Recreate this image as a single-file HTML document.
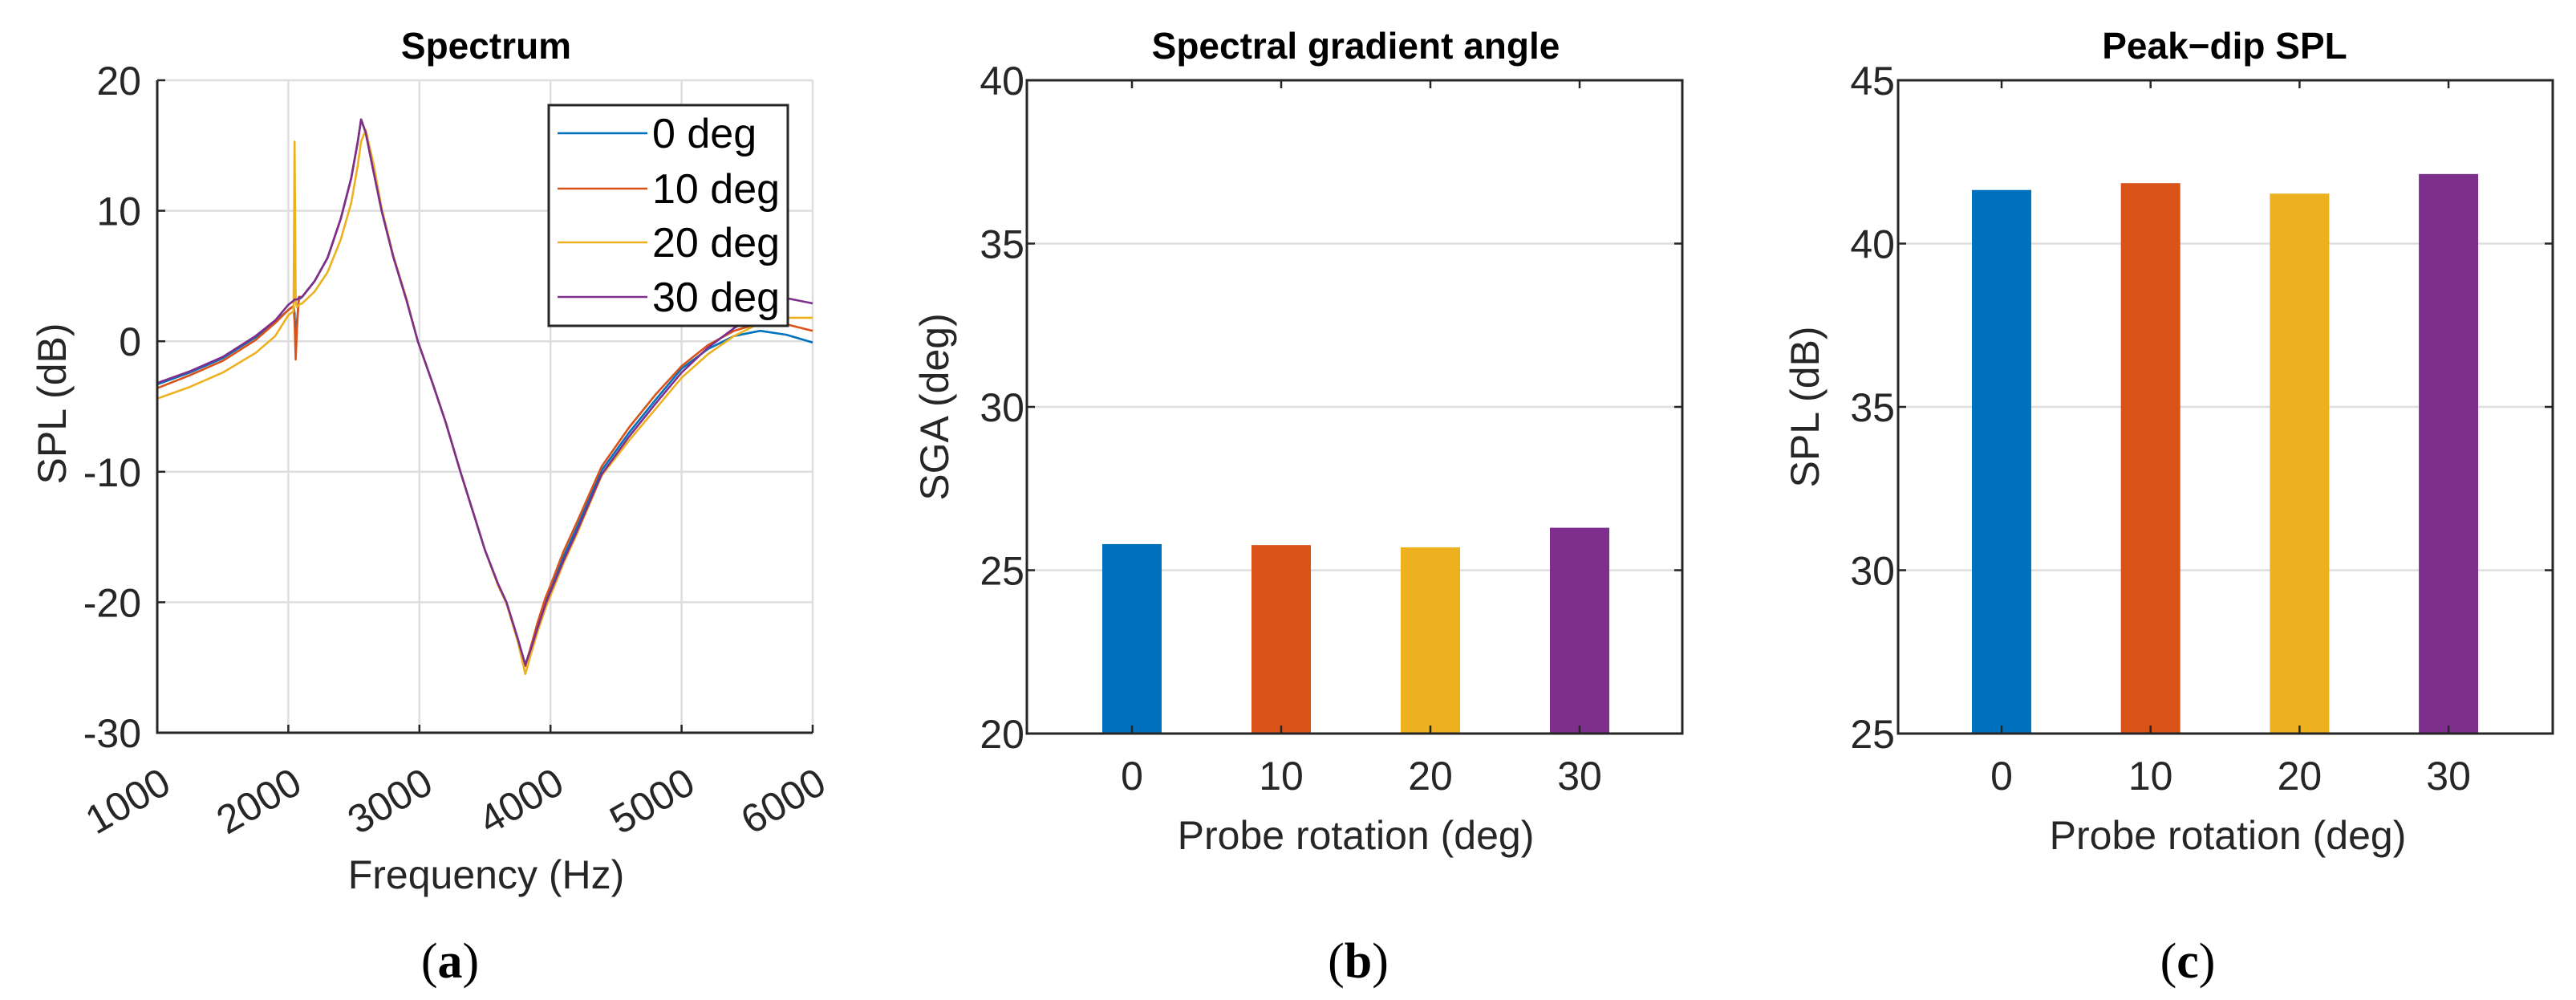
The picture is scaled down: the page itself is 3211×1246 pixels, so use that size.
<!DOCTYPE html>
<html><head><meta charset="utf-8"><style>
html,body{margin:0;padding:0;background:#fff;}
svg{display:block;font-family:"Liberation Sans",Arial,sans-serif;}
</style></head><body>
<svg id="fig" width="3211" height="1246" viewBox="0 0 3211 1246" xmlns="http://www.w3.org/2000/svg">
<rect width="3211" height="1246" fill="#fff"/>
<g id="pa"></g>
<g id="pb"></g>
<g id="pc"></g>
</svg>
<script>
const freqs=[1000,1250,1500,1750,1900,2000,2040,2048,2056,2066,2080,2105,2200,2300,2400,2480,2530,2555,2590,2650,2712,2800,2900,2988,3100,3200,3313,3400,3500,3600,3664,3750,3808,3850,3900,3960,4000,4100,4200,4390,4600,4800,5000,5200,5400,5600,5800,6000];
const spl0=[-3.3,-2.4,-1.3,0.3,1.5,2.4,2.7,2.2,-0.45,1.5,3.2,3.4,4.6,6.4,9.4,12.5,15.3,17.0,16.0,13.0,10.0,6.5,3.2,0,-3.2,-6.2,-10,-12.8,-16,-18.6,-20,-22.8,-24.8,-23.5,-21.8,-20,-19,-16.5,-14.3,-9.9,-7,-4.5,-2.1,-0.6,0.4,0.8,0.5,-0.1];
const spl10=[-3.6,-2.6,-1.5,0.1,1.4,2.4,2.7,1.5,-1.4,1.0,3.4,3.4,4.6,6.4,9.4,12.5,15.3,17.0,16.0,13.0,10.0,6.5,3.2,0,-3.2,-6.2,-10,-12.8,-16,-18.6,-20,-22.8,-24.9,-23.4,-21.6,-19.7,-18.7,-16.1,-13.9,-9.6,-6.6,-4.1,-1.9,-0.3,0.8,1.4,1.3,0.8];
const spl20=[-4.4,-3.5,-2.4,-0.9,0.4,2.0,2.3,15.3,3.0,2.6,2.8,2.9,3.8,5.3,7.8,10.6,13.5,15.3,16.2,13.6,10.2,6.6,3.3,0,-3.2,-6.2,-10,-12.8,-16,-18.7,-20.1,-23.0,-25.5,-24.0,-22.3,-20.5,-19.5,-17.0,-14.8,-10.3,-7.6,-5.2,-2.8,-1.0,0.4,1.4,1.8,1.8];
const spl30=[-3.2,-2.3,-1.2,0.4,1.6,2.8,3.1,3.2,3.2,3.2,3.3,3.4,4.6,6.4,9.4,12.5,15.3,17.0,16.0,13.0,10.0,6.5,3.2,0,-3.2,-6.2,-10,-12.8,-16,-18.6,-20,-22.8,-24.8,-23.6,-22.0,-20.2,-19.2,-16.8,-14.6,-10.2,-7.3,-4.8,-2.4,-0.5,1.0,2.2,3.3,2.9];
const seriesNames=["0 deg","10 deg","20 deg","30 deg"];
const xTicksA=[1000,2000,3000,4000,5000,6000];
const yTicksA=[-30,-20,-10,0,10,20];
const categories=["0","10","20","30"];
const sgaValues=[25.8,25.77,25.7,26.3];
const peakDipValues=[41.64,41.85,41.53,42.13];
const yTicksB=[20,25,30,35,40];
const yTicksC=[25,30,35,40,45];
const colors=["#0072BD","#D95319","#EDB120","#7E2F8E"];
const NS="http://www.w3.org/2000/svg";
function mk(parent,tag,attrs,text){const e=document.createElementNS(NS,tag);for(const k in attrs)e.setAttribute(k,attrs[k]);if(text!==undefined)e.textContent=text;parent.appendChild(e);return e;}
const AX="#262626",GRID="#dedede";

// Panel A
(function(){
 const g=document.getElementById('pa');
 const L=196,R=1013,T=100,B=913;
 const sx=f=>L+(f-1000)/5000*(R-L);
 const sy=v=>T+(20-v)/50*(B-T);
 xTicksA.forEach(t=>{const x=sx(t);
  const gl=mk(g,'line',{x1:x,x2:x,y1:T,y2:B,stroke:GRID,'stroke-width':2.5});
  
  
  const lb=mk(g,'text',{x:x+20,y:985,'text-anchor':'end','font-size':50,fill:AX,transform:`rotate(-30 ${x+20} 985)`},String(t));
  
  
  mk(g,'line',{x1:x,x2:x,y1:B,y2:B-10,stroke:AX,'stroke-width':2.5});
 });
 yTicksA.forEach(t=>{const y=sy(t);
  const gl=mk(g,'line',{x1:L,x2:R,y1:y,y2:y,stroke:GRID,'stroke-width':2.5});
  
  
  const lb=mk(g,'text',{x:176,y:y+18,'text-anchor':'end','font-size':50,fill:AX},String(t));
  
  
  mk(g,'line',{x1:L,x2:L+10,y1:y,y2:y,stroke:AX,'stroke-width':2.5});
 });
 [spl0,spl10,spl20,spl30].forEach((s,i)=>{
  const pts=freqs.map((f,j)=>sx(f).toFixed(1)+','+sy(s[j]).toFixed(1)).join(' ');
  const pl=mk(g,'polyline',{points:pts,fill:'none',stroke:colors[i],'stroke-width':2.6,'stroke-linejoin':'round'});
  
  
 });
 mk(g,'path',{d:`M${L},${T}V${B}H${R}`,fill:'none',stroke:AX,'stroke-width':3});
 const t=mk(g,'text',{x:606,y:73,'text-anchor':'middle','font-size':46,'font-weight':'bold',fill:'#000'},'Spectrum');
 
 const xl=mk(g,'text',{x:606,y:1107,'text-anchor':'middle','font-size':50,fill:AX},'Frequency (Hz)');
 
 const yl=mk(g,'text',{x:0,y:0,'text-anchor':'middle','font-size':50,fill:AX,transform:'translate(82 503) rotate(-90)'},'SPL (dB)');
 
 // legend
 const lg=mk(g,'g',{});
 
 
 mk(lg,'rect',{x:684,y:131,width:298,height:275,fill:'#fff',stroke:AX,'stroke-width':3});
 const rows=[166,235,302,370];
 seriesNames.forEach((n,i)=>{
  const e=mk(lg,'g',{});
  
  
  mk(e,'line',{x1:695,x2:807,y1:rows[i],y2:rows[i],stroke:colors[i],'stroke-width':2.6});
  mk(e,'text',{x:813,y:rows[i]+18,'font-size':52,fill:'#000'},n);
 });
 const sl=mk(g,'text',{x:561,y:1218,'text-anchor':'middle','font-size':62,'font-family':'"Liberation Serif",serif',fill:'#000'},'');
 
 mk(sl,'tspan',{},'(');mk(sl,'tspan',{'font-weight':'bold'},'a');mk(sl,'tspan',{},')');
})();

function barPanel(id,L,R,x0,dx,yTicks,vals,title,titleX,ylab,ylabX,xlabX,subX,sub){
 const g=document.getElementById(id);
 const T=100,B=914,ymin=yTicks[0],ymax=yTicks[yTicks.length-1];
 const sy=v=>T+(ymax-v)/(ymax-ymin)*(B-T);
 const sx=i=>x0+i*dx;
 yTicks.forEach(t=>{const y=sy(t);
  if(t!==ymin&&t!==ymax){const gl=mk(g,'line',{x1:L,x2:R,y1:y,y2:y,stroke:GRID,'stroke-width':2.5});
  
  }
  mk(g,'line',{x1:L,x2:L+10,y1:y,y2:y,stroke:AX,'stroke-width':2.5});
  mk(g,'line',{x1:R,x2:R-10,y1:y,y2:y,stroke:AX,'stroke-width':2.5});
  const lb=mk(g,'text',{x:ylabX+95,y:y+18,'text-anchor':'end','font-size':50,fill:AX},String(t));
  
  
 });
 vals.forEach((v,i)=>{const x=sx(i);
  const r=mk(g,'rect',{x:x-37,y:sy(v),width:74,height:B-sy(v),fill:colors[i]});
  
  
  mk(g,'line',{x1:x,x2:x,y1:B,y2:B-10,stroke:AX,'stroke-width':2.5});
  mk(g,'line',{x1:x,x2:x,y1:T,y2:T+10,stroke:AX,'stroke-width':2.5});
  const lb=mk(g,'text',{x:x,y:984,'text-anchor':'middle','font-size':50,fill:AX},categories[i]);
  
  
 });
 mk(g,'rect',{x:L,y:T,width:R-L,height:B-T,fill:'none',stroke:AX,'stroke-width':3});
 const t=mk(g,'text',{x:titleX,y:73,'text-anchor':'middle','font-size':46,'font-weight':'bold',fill:'#000'},title);
 
 const xl=mk(g,'text',{x:xlabX,y:1058,'text-anchor':'middle','font-size':50,fill:AX},'Probe rotation (deg)');
 
 const yl=mk(g,'text',{x:0,y:0,'text-anchor':'middle','font-size':50,fill:AX,transform:`translate(${ylabX} 507) rotate(-90)`},ylab);
 
 const sl=mk(g,'text',{x:subX,y:1218,'text-anchor':'middle','font-size':62,'font-family':'"Liberation Serif",serif',fill:'#000'},'');
 
 mk(sl,'tspan',{},'(');mk(sl,'tspan',{'font-weight':'bold'},sub);mk(sl,'tspan',{},')');
}
barPanel('pb',1280,2097,1411,186,yTicksB,sgaValues,'Spectral gradient angle',1690,'SGA (deg)',1164+18,1690,1693,'b');
barPanel('pc',2366,3182,2495,185.7,yTicksC,peakDipValues,'Peak\u2212dip SPL',2773,'SPL (dB)',2249+18,2777,2727,'c');
</script>
</body></html>
